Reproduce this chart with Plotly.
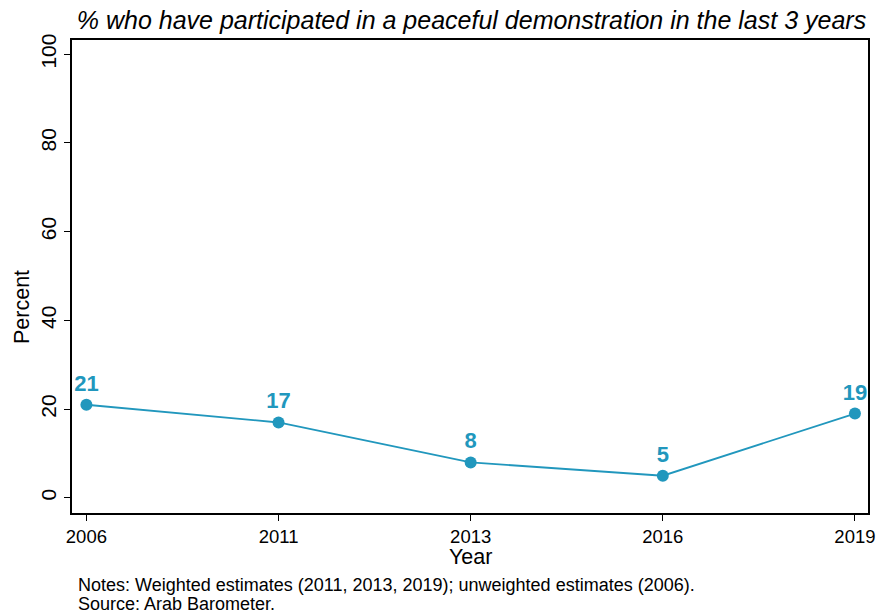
import plotly.graph_objects as go

years = ["2006", "2011", "2013", "2016", "2019"]
values = [21, 17, 8, 5, 19]
labels = ["21", "17", "8", "5", "19"]
y_ticks = [0, 20, 40, 60, 80, 100]

color = "#2197bd"
font = "Liberation Sans, Arial, Helvetica, sans-serif"

fig = go.Figure(go.Scatter(
    x=years, y=values, mode="lines+markers+text",
    text=labels, textposition="top center",
    textfont=dict(family=font, size=22, color=color, weight="bold"),
    line=dict(color=color, width=1.8),
    marker=dict(color=color, size=12),
    cliponaxis=False, showlegend=False,
))

fig.update_layout(
    width=877, height=615,
    margin=dict(l=72, r=9, t=40, b=102, autoexpand=False),
    plot_bgcolor="white", paper_bgcolor="white",
    font=dict(family=font, color="black"),
    title=dict(text="<i>% who have participated in a peaceful demonstration in the last 3 years</i>",
               x=0.5376, xanchor="center", y=0.967, yanchor="middle",
               font=dict(size=25, family=font, color="black")),
    xaxis=dict(type="category", range=[-0.075, 4.068], showline=True, linecolor="black", linewidth=1.5,
               mirror=True, ticks="outside", ticklen=6, tickcolor="black", showgrid=False,
               automargin=False, tickfont=dict(size=18.5)),
    yaxis=dict(range=[-3.4, 103.2], tickvals=y_ticks, showline=True, linecolor="black", linewidth=1.5,
               mirror=True, ticks="outside", ticklen=6, tickcolor="black", showgrid=False,
               automargin=False, zeroline=False, tickangle=-90, tickfont=dict(size=21)),
)

fig.add_annotation(text="Year", xref="paper", yref="paper", x=0.5, y=-(557 - 513) / 473,
                   xanchor="center", yanchor="middle", showarrow=False,
                   font=dict(size=21.5, family=font, color="black"))
fig.add_annotation(text="Percent", xref="paper", yref="paper", x=-(72 - 22) / 796, y=(513 - 307) / 473,
                   xanchor="center", yanchor="middle", textangle=-90, showarrow=False,
                   font=dict(size=21.5, family=font, color="black"))
note_lines = ["Notes: Weighted estimates (2011, 2013, 2019); unweighted estimates (2006).",
              "Source: Arab Barometer."]
for line, yc in zip(note_lines, [585, 604]):
    fig.add_annotation(text=line, xref="paper", yref="paper", x=(76 - 72) / 796, y=-(yc - 513) / 473,
                       xanchor="left", yanchor="middle", showarrow=False,
                       font=dict(size=18, family=font, color="black"))

fig.write_html("out.html", config={"displayModeBar": False},
               post_script="document.body.style.margin='0px';document.body.style.overflow='hidden';")
